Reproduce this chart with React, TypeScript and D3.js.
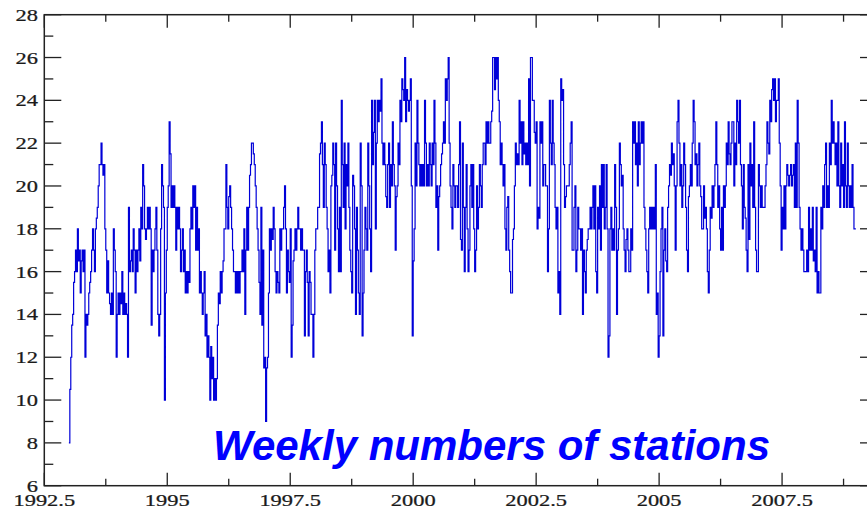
import { useEffect, useRef } from "react"
import * as d3 from "d3"

// weekly station counts, one array per year (52 weeks each)
const weeks1993 = [8, 10.5, 12, 13.5, 14, 15.5, 16, 17, 16, 18, 16.5, 17, 15, 16.5, 17, 16, 17, 12, 14, 13.5, 14, 15, 15.5, 16, 17, 18, 17, 16, 18, 18.5, 19, 20, 21, 21, 22, 21, 20.5, 21, 18, 17, 15, 16.5, 15, 14.5, 14, 15, 14, 18, 17, 16, 12, 14]
const weeks1994 = [15, 14, 15, 14.5, 16, 14, 15, 14, 14.5, 14, 12, 19, 16, 16.5, 17, 16, 18, 17, 15, 17, 16, 17, 18, 16.5, 19, 18, 21, 20, 18, 17.5, 18, 19, 18, 19, 18, 13.5, 17, 16, 17, 18, 19, 17, 14, 13, 14, 18, 21, 20, 19, 10, 15, 17]
const weeks1995 = [19, 20, 23, 21.5, 19, 20, 19, 20, 19, 17, 19, 18, 19, 18, 16, 17, 18, 16, 17, 15, 16, 15, 16, 15.5, 18, 19, 18, 20, 19, 20, 17, 19, 17, 18, 15, 16, 15, 14, 15, 16, 13, 14, 12, 13, 12, 10, 12.5, 11, 12, 10, 11, 10]
const weeks1996 = [11, 13.5, 15, 14.5, 16, 15, 16, 16.5, 18, 18, 21, 19, 18, 19.5, 20, 19, 18, 17, 16, 16, 15, 16, 15, 16, 15, 16, 16, 17, 16, 18, 14, 17, 19, 17, 19, 20.5, 21, 22, 22, 21.5, 21, 20, 19, 18, 17, 15.5, 14, 19, 13.5, 17, 11.5, 12]
const weeks1997 = [9, 11.5, 12, 15, 18, 17, 18, 17.5, 19, 18, 16, 15, 16, 15.5, 15, 18, 17, 18, 18, 19, 20, 18, 15, 17, 16, 15.5, 18, 12, 13.5, 16.5, 17, 18, 17, 18, 19, 18, 18, 17, 18, 17, 17, 13, 16, 17, 15.5, 13, 16, 15.5, 14, 14, 12, 14]
const weeks1998 = [17, 18, 18, 19, 19, 21.5, 22, 23, 21, 19, 22, 21, 19, 18, 16, 17, 15, 20, 20.5, 22, 21, 17, 22, 20, 18, 16, 19, 16, 24, 21, 19, 22, 18, 21, 20, 22, 19, 17, 16, 15, 20.5, 20, 18, 14, 19, 17, 15, 14, 22, 20, 13, 15]
const weeks1999 = [17, 19, 18, 17, 22, 20, 18, 16, 24, 21, 22.5, 24, 18, 22, 24, 23, 24, 23.5, 25, 22, 21, 22, 21, 19.5, 19, 21, 22, 19, 21, 20, 23, 21, 20, 17, 19.5, 20, 22, 21, 24, 23, 25, 24.5, 24, 26, 23, 24.5, 24, 23.5, 24, 25, 20, 13]
const weeks2000 = [16.5, 18, 22, 20, 24, 22, 21, 20, 21, 20, 21, 20, 24, 22, 20, 21, 20, 22, 21, 20, 22, 21, 24, 22, 19, 20, 17, 19.5, 20, 21, 21.5, 22, 23, 22, 25, 24, 25, 26, 22, 20, 19, 18, 21, 20, 19, 20, 20, 19, 21, 23, 17.5, 17]
const weeks2001 = [22, 19, 16, 19, 21, 18, 16, 17, 20, 21, 19, 21, 18, 16, 17, 20, 18, 19, 21, 20, 19, 21, 22, 22, 21, 23, 22, 23, 22, 22, 23, 23.5, 26, 26, 24.5, 26, 25, 26, 24, 23, 21, 22, 21, 20, 21, 18, 17, 19, 19.5, 17, 16, 15]
const weeks2002 = [15, 17.5, 18, 20, 22, 21, 21.5, 21, 24, 22, 23, 21, 23, 21.5, 22, 21, 22, 21, 25, 20, 26, 26, 24, 24, 22.5, 22, 23, 18, 19, 18.5, 23, 22, 23, 20, 21, 21, 20, 20, 16, 18, 24, 22, 21, 24, 22, 21, 19, 18, 19, 15, 16, 14]
const weeks2003 = [25, 24, 24.5, 21, 19, 19.5, 20, 20, 20, 21, 22, 23, 17, 17, 19, 20, 16, 17, 19, 18, 18, 17, 18, 14, 17, 16, 15, 17, 17.5, 18, 18, 19, 18, 19, 20, 18, 20, 16, 15, 19, 18, 20, 17, 21, 19, 21, 18, 19, 21, 18, 12, 13]
const weeks2004 = [18, 19, 17, 18, 17, 21, 19, 14, 17, 18, 22, 21, 20, 20.5, 18, 17, 16, 17.5, 18, 17, 16, 16, 18, 17, 23, 22, 23, 21, 22, 20, 23, 21, 22, 23, 22, 23, 19, 18, 17, 16, 15, 18, 19, 18, 19, 18, 19, 18, 21, 14, 15, 12]
const weeks2005 = [13, 16, 18, 19, 13, 17, 18, 16.5, 16, 19, 20, 21, 20.5, 22, 21, 21.5, 20, 17, 20, 23, 24, 22, 20, 21, 19, 20, 22, 21, 19, 17, 16, 19.5, 20, 21, 20, 22, 24, 23, 21, 21.5, 20, 21, 22, 20, 19.5, 18, 18, 20, 18.5, 19, 18, 16]
const weeks2006 = [15, 17, 19, 18.5, 20, 19, 20, 21, 23, 21, 19, 20, 18, 17, 19, 17, 20, 19, 20, 22, 21, 23, 21.5, 21, 22, 23, 23, 20, 22, 21, 24, 23, 22, 24, 21, 20, 18, 21, 19, 18.5, 17, 16, 21, 17.5, 22, 20, 21, 19, 23, 19, 17, 16]
const weeks2007 = [16, 21, 20, 19, 20, 19, 19, 19, 20, 21, 23, 22, 21.5, 24, 23, 24.5, 25, 24, 25, 23, 24, 24, 25, 22, 20, 17, 19, 18, 20, 18, 20, 21, 20.5, 20, 20.5, 21, 20, 20.5, 21, 19, 22, 19, 24, 22, 19, 18, 17, 18, 17, 16, 16, 16]
const weeks2008 = [17, 16, 19, 17, 18, 17, 19, 16.5, 17, 16, 19, 15, 16, 15, 15, 19, 18, 20, 19, 21, 22, 19, 20, 19, 22, 21, 24, 22, 23, 22, 21, 22, 20, 23, 20, 19, 22, 20, 21, 19, 23, 20, 19, 22, 20, 19, 20, 19, 21, 19, 18, 18]

const years = [1993, 1994, 1995, 1996, 1997, 1998, 1999, 2000, 2001, 2002, 2003, 2004, 2005, 2006, 2007, 2008]
const yearWeeks = [weeks1993, weeks1994, weeks1995, weeks1996, weeks1997, weeks1998, weeks1999, weeks2000, weeks2001, weeks2002, weeks2003, weeks2004, weeks2005, weeks2006, weeks2007, weeks2008]

const xTicks = [1992.5, 1995, 1997.5, 2000, 2002.5, 2005, 2007.5]
const xMinorTicks = [1993.75, 1996.25, 1998.75, 2001.25, 2003.75, 2006.25, 2008.75]
const yTicks = [6, 8, 10, 12, 14, 16, 18, 20, 22, 24, 26, 28]
const yMinorTicks = [7, 9, 11, 13, 15, 17, 19, 21, 23, 25, 27]

const title = "Weekly numbers of stations"

const W = 867
const H = 509

export default function App() {
  const svgRef = useRef<SVGSVGElement>(null)

  useEffect(() => {
    const svg = d3.select(svgRef.current)
    svg.selectAll("*").remove()

    const left = 44.3
    const right = 877
    const top = 14.7
    const bottom = 485.7

    const x = d3.scaleLinear().domain([1992.5, 2009.43]).range([left, right])
    const y = d3.scaleLinear().domain([6, 28]).range([bottom, top])

    const points: { t: number; v: number }[] = []
    years.forEach((yr, i) => {
      yearWeeks[i].forEach((v, k) => points.push({ t: yr + k / 52, v }))
    })
    const last = points[points.length - 1]
    points.push({ t: last.t + 1 / 52, v: last.v })

    const line = d3
      .line<{ t: number; v: number }>()
      .x((d) => x(d.t))
      .y((d) => y(d.v))
      .curve(d3.curveStepAfter)

    svg
      .append("path")
      .datum(points)
      .attr("fill", "none")
      .attr("stroke", "#0000d8")
      .attr("stroke-width", 1.2)
      .attr("d", line)

    const axisColor = "#222"

    // frame
    svg
      .append("rect")
      .attr("x", left)
      .attr("y", top)
      .attr("width", right - left)
      .attr("height", bottom - top)
      .attr("fill", "none")
      .attr("stroke", axisColor)
      .attr("stroke-width", 1.5)

    const ticks = svg.append("g").attr("stroke", axisColor).attr("stroke-width", 1.3)

    const xTick = (vals: number[], len: number) => {
      vals.forEach((t) => {
        ticks.append("line").attr("x1", x(t)).attr("x2", x(t)).attr("y1", bottom).attr("y2", bottom - len)
        ticks.append("line").attr("x1", x(t)).attr("x2", x(t)).attr("y1", top).attr("y2", top + len)
      })
    }
    xTick(xTicks, 13)
    xTick(xMinorTicks, 7)

    const yTick = (vals: number[], len: number) => {
      vals.forEach((v) => {
        ticks.append("line").attr("x1", left).attr("x2", left + len).attr("y1", y(v)).attr("y2", y(v))
        ticks.append("line").attr("x1", right).attr("x2", right - len).attr("y1", y(v)).attr("y2", y(v))
      })
    }
    yTick(yTicks, 17)
    yTick(yMinorTicks, 9)

    const labelFont = "Liberation Serif, DejaVu Serif, serif"

    svg
      .append("g")
      .selectAll("text")
      .data(xTicks)
      .join("text")
      .attr("transform", (d) => `translate(${x(d)},${bottom + 20.5}) scale(1.32,1)`)
      .attr("text-anchor", "middle")
      .attr("font-family", labelFont)
      .attr("font-size", 17)
      .attr("fill", "#1a1a1a")
      .attr("stroke", "#1a1a1a")
      .attr("stroke-width", 0.25)
      .text((d) => String(d))

    svg
      .append("g")
      .selectAll("text")
      .data(yTicks)
      .join("text")
      .attr("transform", (d) => `translate(38,${y(d) + 6}) scale(1.32,1)`)
      .attr("text-anchor", "end")
      .attr("font-family", labelFont)
      .attr("font-size", 17)
      .attr("fill", "#1a1a1a")
      .attr("stroke", "#1a1a1a")
      .attr("stroke-width", 0.25)
      .text((d) => String(d))

    svg
      .append("text")
      .attr("x", 213)
      .attr("y", 460)
      .attr("font-family", "Liberation Sans, Arial, sans-serif")
      .attr("font-weight", "bold")
      .attr("font-style", "italic")
      .attr("font-size", 42)
      .attr("fill", "#0000ff")
      .text(title)
  }, [])

  return <svg ref={svgRef} width={W} height={H} style={{ position: "absolute", left: 0, top: 0, background: "#fff" }} />
}
